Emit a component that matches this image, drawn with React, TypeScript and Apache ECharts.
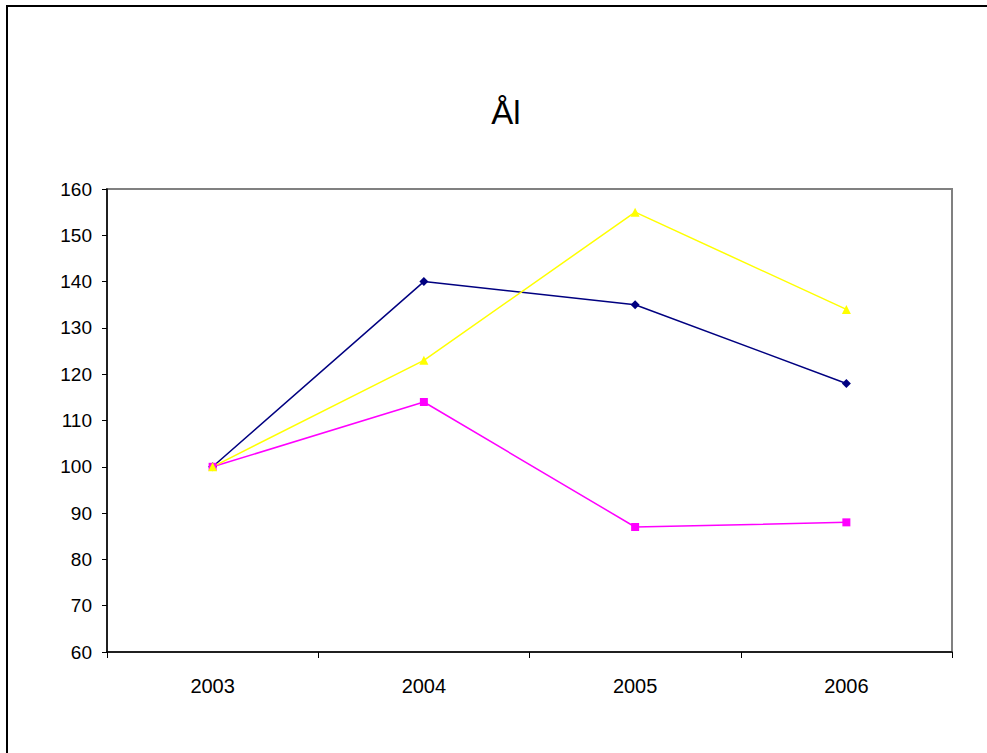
import React, { useEffect, useRef } from "react";
import * as echarts from "echarts";

const years = ["2003", "2004", "2005", "2006"];
const seriesNavy = [100, 140, 135, 118];
const seriesMagenta = [100, 114, 87, 88];
const seriesYellow = [100, 123, 155, 134];
const titleText = "Ål";

export default function App() {
  const ref = useRef<HTMLDivElement>(null);
  useEffect(() => {
    if (!ref.current) return;
    const chart = echarts.init(ref.current, undefined, { renderer: "svg" });
    const font = "Liberation Sans, Arial, sans-serif";
    chart.setOption({
      animation: false,
      backgroundColor: "#ffffff",
      title: {
        text: titleText,
        left: 501,
        top: 91,
        textAlign: "center",
        textStyle: { fontSize: 33, fontWeight: "normal", fontFamily: font, color: "#000" },
      },
      graphic: [
        {
          type: "rect",
          shape: { x: 7, y: 6, width: 1100, height: 900 },
          style: { fill: "none", stroke: "#000", lineWidth: 2 },
          silent: true,
        },
      ],
      grid: {
        left: 107,
        right: 35,
        top: 189,
        bottom: 101,
        show: true,
        borderColor: "#808080",
        borderWidth: 2,
        backgroundColor: "transparent",
      },
      xAxis: {
        type: "category",
        data: years,
        boundaryGap: true,
        axisLine: { lineStyle: { color: "#000", width: 1.5 } },
        axisTick: { show: true, alignWithLabel: false, length: 6, lineStyle: { color: "#000" } },
        axisLabel: { fontSize: 20, fontFamily: font, color: "#000", margin: 24 },
        splitLine: { show: false },
      },
      yAxis: {
        type: "value",
        min: 60,
        max: 160,
        interval: 10,
        axisLine: { show: true, lineStyle: { color: "#000", width: 1.5 } },
        axisTick: { show: true, length: 5, lineStyle: { color: "#000" } },
        axisLabel: { fontSize: 19, fontFamily: font, color: "#000", margin: 15 },
        splitLine: { show: false },
      },
      series: [
        {
          type: "line",
          data: seriesNavy,
          symbol: "diamond",
          symbolSize: 9,
          lineStyle: { color: "#000080", width: 1.5 },
          itemStyle: { color: "#000080" },
        },
        {
          type: "line",
          data: seriesMagenta,
          symbol: "rect",
          symbolSize: 8,
          lineStyle: { color: "#FF00FF", width: 1.5 },
          itemStyle: { color: "#FF00FF" },
        },
        {
          type: "line",
          data: seriesYellow,
          symbol: "triangle",
          symbolSize: 9,
          lineStyle: { color: "#FFFF00", width: 1.5 },
          itemStyle: { color: "#FFFF00" },
        },
      ],
    });
    return () => chart.dispose();
  }, []);
  return (
    <div
      ref={ref}
      style={{ position: "absolute", left: 0, top: 0, width: 987, height: 753 }}
    />
  );
}
